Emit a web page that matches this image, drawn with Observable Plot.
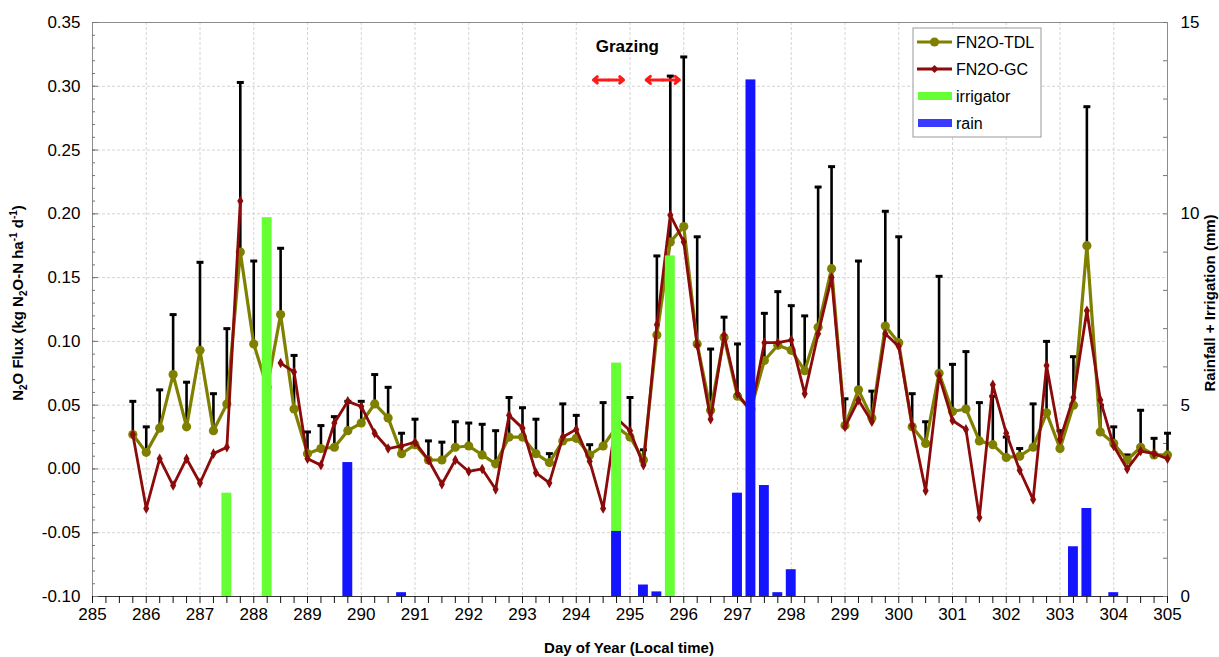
<!DOCTYPE html>
<html><head><meta charset="utf-8">
<script src="https://cdn.jsdelivr.net/npm/d3@7"></script>
<script src="https://cdn.jsdelivr.net/npm/@observablehq/plot@0.6"></script>
<style>
html,body{margin:0;padding:0;background:#fff;overflow:hidden;}
#chart svg{display:block;}
</style></head><body><div id="chart"></div>
<script>
// ---- data ----
const days = [285.75,286,286.25,286.5,286.75,287,287.25,287.5,287.75,288,288.25,288.5,288.75,
  289,289.25,289.5,289.75,290,290.25,290.5,290.75,291,291.25,291.5,291.75,
  292,292.25,292.5,292.75,293,293.25,293.5,293.75,294,294.25,294.5,294.75,
  295,295.25,295.5,295.75,296,296.25,296.5,296.75,297,297.25,297.5,297.75,
  298,298.25,298.5,298.75,299,299.25,299.5,299.75,300,300.25,300.5,300.75,
  301,301.25,301.5,301.75,302,302.25,302.5,302.75,303,303.25,303.5,303.75,
  304,304.25,304.5,304.75,305];
const fluxTDL = [0.027,0.013,0.032,0.074,0.033,0.093,0.030,0.051,0.170,0.098,0.064,0.121,0.047,
  0.012,0.016,0.017,0.030,0.036,0.051,0.040,0.012,0.019,0.007,0.007,0.017,
  0.018,0.011,0.004,0.025,0.025,0.012,0.005,0.022,0.024,0.011,0.018,0.033,
  0.025,0.007,0.105,0.178,0.190,0.098,0.046,0.103,0.057,0.047,0.085,0.097,
  0.093,0.077,0.111,0.157,0.034,0.062,0.040,0.112,0.099,0.033,0.020,0.075,
  0.045,0.047,0.022,0.019,0.009,0.010,0.017,0.044,0.016,0.050,0.175,0.029,
  0.020,0.007,0.017,0.011,0.011];
const fluxGC = [0.027,-0.031,0.008,-0.013,0.008,-0.011,0.012,0.017,0.210,null,null,0.083,0.076,
  0.008,0.003,0.036,0.053,0.049,0.028,0.016,0.018,0.021,0.007,-0.012,0.007,
  -0.002,0.000,-0.016,0.042,0.032,-0.003,-0.011,0.025,0.031,0.006,-0.031,0.040,
  0.030,0.003,0.113,0.199,0.178,0.097,0.039,0.105,0.059,0.045,0.099,0.099,
  0.101,0.059,0.106,0.150,0.033,0.054,0.037,0.106,0.096,0.034,-0.017,0.073,
  0.038,0.031,-0.038,0.066,0.028,-0.001,-0.024,0.081,0.023,0.056,0.124,0.054,
  0.018,0.000,0.014,0.012,0.008];
const errTop = [0.053,0.033,0.062,0.121,0.068,0.162,0.059,0.110,0.303,0.163,null,0.173,0.089,
  0.029,0.034,0.041,0.053,0.053,0.074,0.064,0.028,0.039,0.022,0.021,0.037,
  0.036,0.035,0.030,0.056,0.048,0.039,0.012,0.051,0.042,0.019,0.052,null,
  0.056,0.015,0.167,0.308,0.323,0.182,0.094,0.119,0.098,null,0.122,0.139,
  0.128,0.120,0.221,0.237,0.055,0.163,0.061,0.202,0.182,0.059,0.037,0.151,
  0.082,0.092,0.052,0.057,0.025,0.016,0.051,0.100,0.030,0.088,0.284,0.050,
  0.033,0.011,0.046,0.024,0.028];
const irrigDays = [287.5, 288.25, 294.75, 295.75];
const irrigMM   = [2.7, 9.9, 6.1, 8.9];
const rainDays = [289.75, 290.75, 294.75, 295.25, 295.5, 297.0, 297.25, 297.5, 297.75, 298.0, 303.25, 303.5, 304.0];
const rainMM   = [3.5, 0.1, 1.7, 0.3, 0.12, 2.7, 13.5, 2.9, 0.1, 0.7, 1.3, 2.3, 0.1];
const grazingStart = [294.32, 295.30];
const grazingEnd   = [294.88, 295.92];
const leftTicks = [-0.10,-0.05,0.00,0.05,0.10,0.15,0.20,0.25,0.30,0.35];
const leftTickLabels = ["-0.10","-0.05","0.00","0.05","0.10","0.15","0.20","0.25","0.30","0.35"];
const rightTicksMM = [0, 5, 10, 15];
const dayTicks = [285,286,287,288,289,290,291,292,293,294,295,296,297,298,299,300,301,302,303,304,305];

// ---- derived ----
const Y0 = -0.10, Y1 = 0.35, MMMAX = 15;
const mmToFlux = mm => Y0 + mm / MMMAX * (Y1 - Y0);
const fluxToMM = f => (f - Y0) / (Y1 - Y0) * MMMAX;
const rows = days.map((d, i) => ({day: d, tdl: fluxTDL[i], gc: fluxGC[i], err: errTop[i]}));
const errRows = rows.filter(r => r.err != null);
const irrig = irrigDays.map((d, i) => ({day: d, mm: irrigMM[i]}));
const rain = rainDays.map((d, i) => ({day: d, mm: rainMM[i]}));
const grazing = grazingStart.map((s, i) => ({s, e: grazingEnd[i], m: (s + grazingEnd[i]) / 2}));
const quarterTicks = d3.range(285 * 4, 305 * 4 + 1).map(k => k / 4);
const minorLeft = d3.range(-10, 36).map(k => k / 100);
const minorRight = d3.range(0, 16).map(mmToFlux);

const W = 1219, H = 657, ML = 92, MR = 52, MT = 22, MB = 61;
const FW = W - ML - MR;
const half = 0.092;
const OLIVE = "#808000", DARKRED = "#8b0a0a", GREEN = "#66ff33", BLUE = "#1414ff";

const chart = Plot.plot({
  width: W, height: H,
  marginLeft: ML, marginRight: MR, marginTop: MT, marginBottom: MB,
  style: {fontFamily: "'Liberation Sans', Arial, sans-serif", color: "black", background: "white", overflow: "visible"},
  x: {domain: [285, 305]},
  y: {domain: [Y0, Y1]},
  marks: [
    Plot.gridX({ticks: dayTicks, stroke: "#d4d4d4", strokeOpacity: 1, strokeDasharray: "3,2"}),
    Plot.gridY({ticks: leftTicks, stroke: "#d4d4d4", strokeOpacity: 1, strokeDasharray: "3,2"}),
    Plot.frame({stroke: "#8c8c8c"}),
    Plot.ruleY([Y0], {stroke: "#333", strokeWidth: 1.2}),
    // inward ticks
    Plot.tickY(minorLeft, {y: d => d, insetRight: FW - 3, stroke: "#777"}),
    Plot.tickY(leftTicks, {y: d => d, insetRight: FW - 6, stroke: "#777"}),
    Plot.tickY(minorRight, {y: d => d, insetLeft: FW - 4, stroke: "#777"}),
    // axes
    Plot.axisX({ticks: quarterTicks, tickFormat: d => Number.isInteger(d) ? String(d) : "", tickSize: 7, tickPadding: 4, fontSize: 17, label: null, stroke: "#111"}),
    Plot.axisY({ticks: leftTicks, tickFormat: d => leftTickLabels[leftTicks.indexOf(d)], tickSize: 0, tickPadding: 12, fontSize: 17, label: null}),
    Plot.axisY({anchor: "right", ticks: rightTicksMM.map(mmToFlux), tickFormat: d => String(Math.round(fluxToMM(d))), tickSize: 0, tickPadding: 13, fontSize: 17, label: null}),
    // error bars
    Plot.ruleX(errRows, {x: "day", y1: "tdl", y2: "err", stroke: "black", strokeWidth: 2.6}),
    Plot.link(errRows, {x1: d => d.day - 0.065, x2: d => d.day + 0.065, y1: "err", y2: "err", stroke: "black", strokeWidth: 3}),
    // lines
    Plot.line(rows, {x: "day", y: "tdl", stroke: OLIVE, strokeWidth: 3.2}),
    Plot.dot(rows, {x: "day", y: "tdl", r: 4.6, fill: OLIVE, stroke: "none"}),
    Plot.line(rows, {x: "day", y: "gc", stroke: DARKRED, strokeWidth: 2.8}),
    Plot.dot(rows.filter(r => r.gc != null), {x: "day", y: "gc", symbol: "diamond", r: 3.2, fill: DARKRED, stroke: "none"}),
    // bars (right axis, mm)
    Plot.rect(irrig, {x1: d => d.day - half, x2: d => d.day + half, y1: mmToFlux(0), y2: d => mmToFlux(d.mm), fill: GREEN}),
    Plot.rect(rain, {x1: d => d.day - half, x2: d => d.day + half, y1: mmToFlux(0), y2: d => mmToFlux(d.mm), fill: BLUE}),
    // grazing annotation
    Plot.arrow(grazing, {x1: "m", x2: "e", y1: 0.305, y2: 0.305, stroke: "#ff1a1a", strokeWidth: 3, headLength: 8, headAngle: 80}),
    Plot.arrow(grazing, {x1: "m", x2: "s", y1: 0.305, y2: 0.305, stroke: "#ff1a1a", strokeWidth: 3, headLength: 8, headAngle: 80}),
    Plot.text(["Grazing"], {x: 294.95, y: 0.331, text: d => d, fontSize: 17, fontWeight: "bold", fill: "black"})
  ]
});

document.getElementById("chart").appendChild(chart);
const svg = d3.select(chart);

// axis titles
const lt = svg.append("text").attr("transform", "translate(23,303) rotate(-90)")
  .attr("text-anchor", "middle").attr("font-weight", "bold").attr("font-size", 15).attr("fill", "black");
lt.append("tspan").text("N");
lt.append("tspan").attr("font-size", 10).attr("dy", 4).text("2");
lt.append("tspan").attr("dy", -4).text("O Flux (kg N");
lt.append("tspan").attr("font-size", 10).attr("dy", 4).text("2");
lt.append("tspan").attr("dy", -4).text("O-N ha");
lt.append("tspan").attr("font-size", 10).attr("dy", -6).text("-1");
lt.append("tspan").attr("dy", 6).text(" d");
lt.append("tspan").attr("font-size", 10).attr("dy", -6).text("-1");
lt.append("tspan").attr("dy", 6).text(")");

svg.append("text").attr("transform", "translate(1215,303) rotate(-90)")
  .attr("text-anchor", "middle").attr("font-weight", "bold").attr("font-size", 15).attr("fill", "black")
  .text("Rainfall + Irrigation (mm)");

svg.append("text").attr("x", 629).attr("y", 653)
  .attr("text-anchor", "middle").attr("font-weight", "bold").attr("font-size", 15).attr("fill", "black")
  .text("Day of Year (Local time)");

// legend
const lg = svg.append("g").attr("font-size", 16).attr("fill", "black").attr("text-anchor", "start");
lg.append("rect").attr("x", 913).attr("y", 28).attr("width", 128).attr("height", 109)
  .attr("fill", "white").attr("stroke", "#999").attr("stroke-width", 1);
const items = [
  {label: "FN2O-TDL", kind: "tdl", y: 42},
  {label: "FN2O-GC", kind: "gc", y: 69},
  {label: "irrigator", kind: "irr", y: 96},
  {label: "rain", kind: "rain", y: 123}
];
items.forEach(it => {
  if (it.kind === "tdl" || it.kind === "gc") {
    const c = it.kind === "tdl" ? OLIVE : DARKRED;
    lg.append("line").attr("x1", 917).attr("x2", 952).attr("y1", it.y).attr("y2", it.y)
      .attr("stroke", c).attr("stroke-width", 3);
    if (it.kind === "tdl") lg.append("circle").attr("cx", 934.5).attr("cy", it.y).attr("r", 4.6).attr("fill", c);
    else lg.append("path").attr("d", d3.symbol(d3.symbolDiamond2, 40)()).attr("transform", `translate(934.5,${it.y})`).attr("fill", c);
  } else {
    lg.append("rect").attr("x", 918).attr("y", it.y - 4).attr("width", 34).attr("height", 8)
      .attr("fill", it.kind === "irr" ? GREEN : "#3b3bff");
  }
  lg.append("text").attr("x", 956).attr("y", it.y).attr("dy", "0.36em").attr("text-anchor", "start").text(it.label);
});
</script>
</body></html>
